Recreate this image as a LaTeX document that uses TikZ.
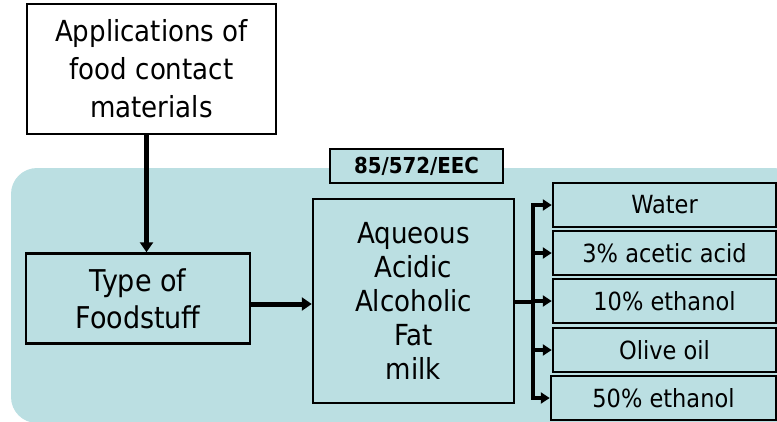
\documentclass[tikz,border=0pt]{standalone}
\usepackage{fontspec}
\setmainfont[FakeStretch=0.9]{DejaVu Sans}
\usetikzlibrary{arrows.meta}
\definecolor{bgteal}{HTML}{BBDFE2}
\tikzset{
  box/.style={draw=black, line width=2.5pt, fill=bgteal, inner sep=0pt, align=center},
  conn/.style={line width=5pt, -{Triangle[length=10pt,width=13pt]}},
  busline/.style={line width=4pt},
  busarrow/.style={line width=4pt, -{Triangle[length=9pt,width=11pt]}},
}
\begin{document}
\begin{tikzpicture}[x=1pt,y=-1pt]
\useasboundingbox (0,0) rectangle (777,421);
\fill[bgteal, rounded corners=26pt] (11,168) rectangle (800,423);
\node[box, fill=white, minimum width=249pt, minimum height=130pt,
  font=\fontsize{29}{38}\selectfont] (top) at (151.5,69)
  {\raisebox{-5pt}{\parbox{240pt}{\centering Applications of\\food contact\\materials}}};
\node[box, minimum width=173pt, minimum height=34pt,
  font=\fontsize{22}{26}\selectfont\bfseries] (eec) at (416.5,166) {85/572/EEC};
\node[box, minimum width=224pt, minimum height=90pt,
  font=\fontsize{30}{37}\selectfont] (type) at (138,298.5) {Type of\\Foodstuff};
\node[box, minimum width=201pt, minimum height=204pt,
  font=\fontsize{29}{34}\selectfont] (mid) at (413.5,301)
  {Aqueous\\Acidic\\Alcoholic\\Fat\\milk};
\tikzset{sbox/.style={box, minimum width=223pt, minimum height=44pt,
  font=\fontsize{25}{30}\selectfont}}
\node[sbox] (water) at (664.5,205) {Water};
\node[sbox] (acetic) at (664.5,253) {3\% acetic acid};
\node[sbox] (ten) at (664.5,301) {10\% ethanol};
\node[sbox] (olive) at (664.5,350) {Olive oil};
\node[sbox, minimum width=225pt] (fifty) at (663.5,398) {50\% ethanol};
\coordinate (vx) at (146.5,0);
\draw[conn] (top.south -| vx) -- (type.north -| vx);
\coordinate (hy) at (0,304);
\draw[conn] (type.east |- hy) -- (mid.west |- hy);
\coordinate (bx) at (533,302);
\draw[busline] (mid.east |- bx) -- (bx);
\draw[busarrow] (bx) |- (water.west);
\draw[busarrow] (bx) |- (fifty.west);
\draw[busarrow] (bx |- acetic.west) -- (acetic.west);
\draw[busarrow] (bx |- ten.west) -- (ten.west);
\draw[busarrow] (bx |- olive.west) -- (olive.west);
\end{tikzpicture}
\end{document}
